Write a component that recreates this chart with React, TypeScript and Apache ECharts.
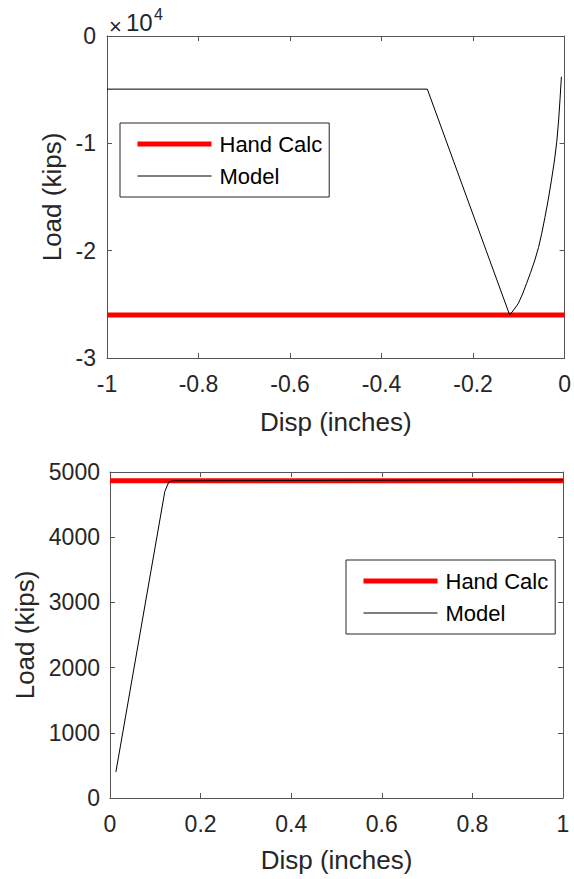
import React, { useEffect, useRef } from "react";
import * as echarts from "echarts";

// ---- data ----
const topModelDisp = [-1, -0.3, -0.12, -0.11, -0.101, -0.092, -0.083, -0.074, -0.065, -0.057, -0.05, -0.043, -0.036, -0.029, -0.022, -0.017, -0.013, -0.01, -0.007];
const topModelLoad = [-4950, -4950, -26000, -25450, -24900, -24050, -23040, -22000, -20870, -19700, -18400, -16900, -15300, -13500, -11550, -9800, -7830, -5900, -3800];
const topHandCalcDisp = [-1, 0];
const topHandCalcLoad = [-26000, -26000];

const botModelDisp = [0.013, 0.121, 0.13, 0.14, 1];
const botModelLoad = [400, 4700, 4850, 4865, 4880];
const botHandCalcDisp = [0, 1];
const botHandCalcLoad = [4865, 4865];

const topXTicks = { min: -1, max: 0, interval: 0.2 };
const topYTicks = { min: -30000, max: 0, interval: 10000 };
const botXTicks = { min: 0, max: 1, interval: 0.2 };
const botYTicks = { min: 0, max: 5000, interval: 1000 };

const zip = (xs: number[], ys: number[]) => xs.map((x, i) => [x, ys[i]]);

const FONT = "Liberation Sans, Arial, sans-serif";
const TXT = "#262626";
const AX = "#555555";

function axisBase(ticks: { min: number; max: number; interval: number }, gridIndex: number) {
  return {
    type: "value" as const,
    gridIndex,
    min: ticks.min,
    max: ticks.max,
    interval: ticks.interval,
    splitLine: { show: false },
    axisLine: { show: true, onZero: false, lineStyle: { color: AX, width: 1 } },
    axisTick: { show: true, inside: true, length: 5, lineStyle: { color: AX, width: 1 } },
  };
}

export default function App() {
  const ref = useRef<HTMLDivElement>(null);
  useEffect(() => {
    if (!ref.current) return;
    const chart = echarts.init(ref.current, undefined, { renderer: "svg" });
    const labelStyle = { color: TXT, fontFamily: FONT, fontSize: 23 };
    const nameStyle = { color: TXT, fontFamily: FONT, fontSize: 26 };
    const xFmt = (v: number) => String(Math.round(v * 10) / 10);

    const legendCommon = {
      orient: "vertical" as const,
      itemWidth: 74,
      itemHeight: 20,
      itemGap: 10,
      padding: [10, 7, 10, 15],
      borderColor: "#262626",
      borderWidth: 1,
      backgroundColor: "#ffffff",
      itemStyle: { opacity: 0 },
      textStyle: { color: "#000", fontFamily: FONT, fontSize: 22, lineHeight: 20, padding: [0, 0, 0, 3] },
      selectedMode: false,
    };

    chart.setOption({
      animation: false,
      backgroundColor: "#ffffff",
      grid: [
        { left: 107, top: 36, width: 463, height: 322 },
        { left: 110, top: 472, width: 453, height: 326 },
      ],
      xAxis: [
        {
          ...axisBase(topXTicks, 0),
          position: "bottom",
          axisLabel: { ...labelStyle, margin: 14, formatter: xFmt },
          name: "Disp (inches)",
          nameLocation: "middle",
          nameGap: 51,
          nameTextStyle: nameStyle,
        },
        { ...axisBase(topXTicks, 0), position: "top", axisLabel: { show: false } },
        {
          ...axisBase(botXTicks, 1),
          position: "bottom",
          axisLabel: { ...labelStyle, margin: 14, formatter: xFmt },
          name: "Disp (inches)",
          nameLocation: "middle",
          nameGap: 49,
          nameTextStyle: nameStyle,
        },
        { ...axisBase(botXTicks, 1), position: "top", axisLabel: { show: false } },
      ],
      yAxis: [
        {
          ...axisBase(topYTicks, 0),
          position: "left",
          axisLabel: { ...labelStyle, margin: 11, formatter: (v: number) => String(v / 10000) },
          name: "Load (kips)",
          nameLocation: "middle",
          nameGap: 34,
          nameTextStyle: nameStyle,
        },
        { ...axisBase(topYTicks, 0), position: "right", axisLabel: { show: false } },
        {
          ...axisBase(botYTicks, 1),
          position: "left",
          axisLabel: { ...labelStyle, margin: 10, formatter: (v: number) => String(v) },
          name: "Load (kips)",
          nameLocation: "middle",
          nameGap: 70,
          nameTextStyle: nameStyle,
        },
        { ...axisBase(botYTicks, 1), position: "right", axisLabel: { show: false } },
      ],
      legend: [
        {
          ...legendCommon,
          left: 120,
          top: 123,
          data: [
            { name: "Hand Calc", lineStyle: { width: 5 } },
            { name: "Model", lineStyle: { width: 1 } },
          ],
        },
        {
          ...legendCommon,
          left: 346,
          top: 560,
          data: [
            { name: "Hand Calc ", lineStyle: { width: 5 } },
            { name: "Model ", lineStyle: { width: 1 } },
          ],
          formatter: (n: string) => n.trim(),
        },
      ],
      graphic: [
        { type: "text", left: 109, top: 15, style: { text: "×", fontFamily: FONT, fontSize: 22, fill: TXT } },
        { type: "text", left: 126, top: 10, style: { text: "10", fontFamily: FONT, fontSize: 24, fill: TXT } },
        { type: "text", left: 154, top: 6, style: { text: "4", fontFamily: FONT, fontSize: 16, fill: TXT } },
      ],
      series: [
        {
          name: "Hand Calc",
          type: "line",
          xAxisIndex: 0,
          yAxisIndex: 0,
          symbol: "none",
          data: zip(topHandCalcDisp, topHandCalcLoad),
          lineStyle: { color: "#ff0000", width: 5 },
          itemStyle: { color: "#ff0000" },
        },
        {
          name: "Model",
          type: "line",
          xAxisIndex: 0,
          yAxisIndex: 0,
          symbol: "none",
          data: zip(topModelDisp, topModelLoad),
          lineStyle: { color: "#000000", width: 1 },
          itemStyle: { color: "#000000" },
        },
        {
          name: "Hand Calc ",
          type: "line",
          xAxisIndex: 2,
          yAxisIndex: 2,
          symbol: "none",
          data: zip(botHandCalcDisp, botHandCalcLoad),
          lineStyle: { color: "#ff0000", width: 5 },
          itemStyle: { color: "#ff0000" },
        },
        {
          name: "Model ",
          type: "line",
          xAxisIndex: 2,
          yAxisIndex: 2,
          symbol: "none",
          data: zip(botModelDisp, botModelLoad),
          lineStyle: { color: "#000000", width: 1 },
          itemStyle: { color: "#000000" },
        },
      ],
    });
    return () => chart.dispose();
  }, []);
  return (
    <div
      ref={ref}
      style={{ position: "fixed", left: 0, top: 0, width: 574, height: 879, background: "#fff" }}
    />
  );
}
